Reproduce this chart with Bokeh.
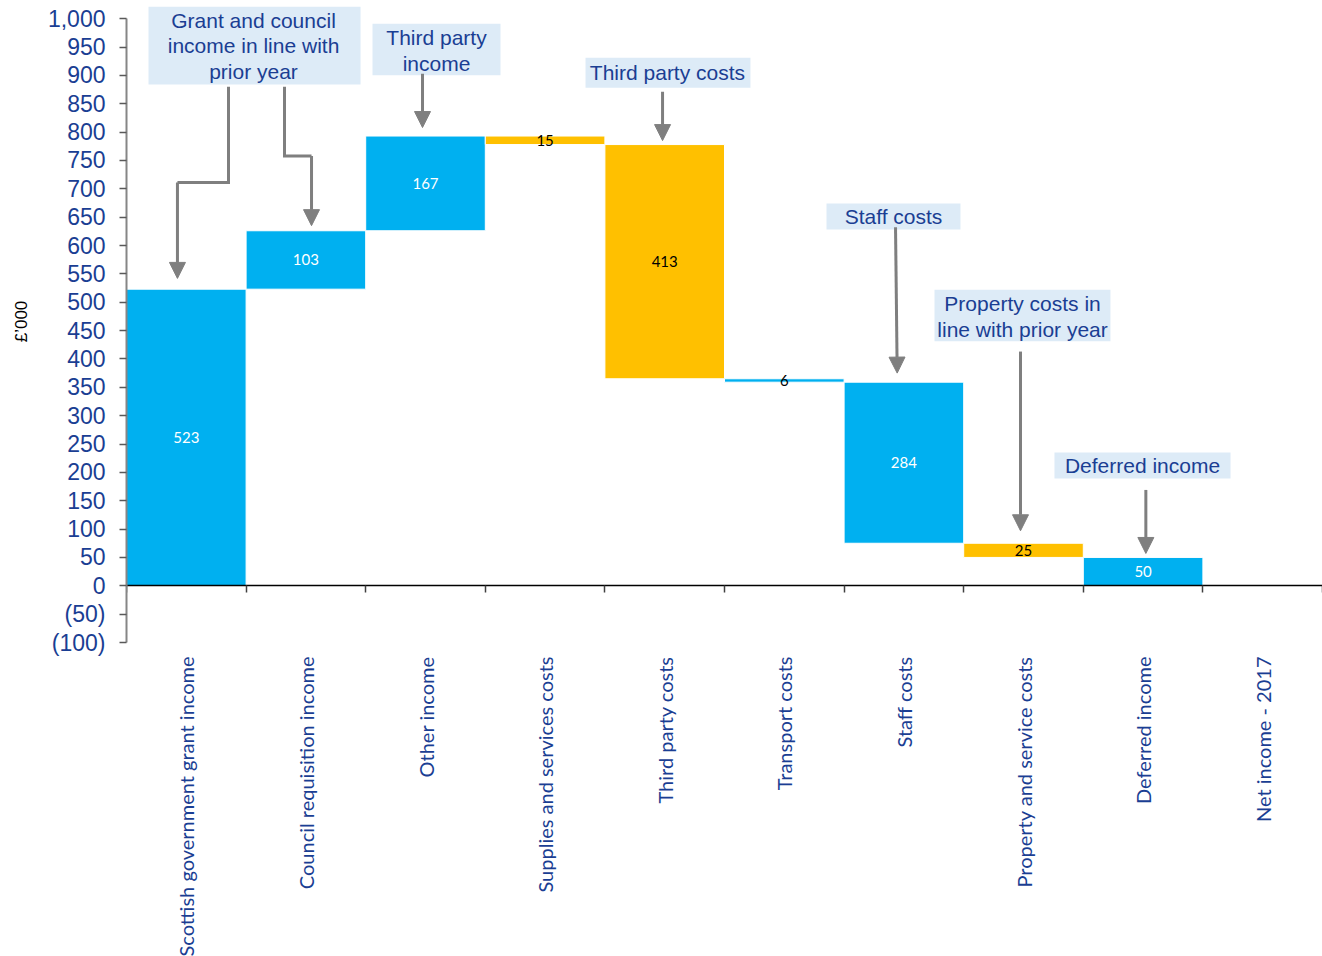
import math
from bokeh.plotting import figure
from bokeh.models import (ColumnDataSource, Range1d, LinearAxis, FixedTicker,
                          Arrow, NormalHead)
from bokeh.core.properties import value
from bokeh.embed import file_html
from bokeh.resources import INLINE

# ---------------- data ----------------
categories = [
    "Scottish government grant income",
    "Council requisition income",
    "Other income",
    "Supplies and services costs",
    "Third party costs",
    "Transport costs",
    "Staff costs",
    "Property and service costs",
    "Deferred income",
    "Net income - 2017",
]
changes = [523, 103, 167, -15, -413, -6, -284, -25, -50, 0]
bar_labels = ["523", "103", "167", "15", "413", "6", "284", "25", "50", "(0)"]
is_total = [False] * 9 + [True]

y_ticks = list(range(-100, 1001, 50))
y_tick_labels = [f"({abs(v):,})" if v < 0 else f"{v:,}" for v in y_ticks]

# styles (kept separate from data)
BLUE = "#00B0F0"
YELLOW = "#FFC000"
bar_colors = [BLUE, BLUE, BLUE, YELLOW, YELLOW, BLUE, BLUE, YELLOW, BLUE, BLUE]
label_colors = ["white", "white", "white", "black", "black", "black", "white", "black", "white", "white"]
TEXT_BLUE = "#1A3E93"
GREY = "#7F7F7F"
BOX = "#DDEBF7"

# ---------------- waterfall geometry from data ----------------
bottoms, tops = [], []
running = 0
for ch, tot in zip(changes, is_total):
    if tot:
        b, t = 0, running
    else:
        start = running
        running += ch
        b, t = min(start, running), max(start, running)
    bottoms.append(b)
    tops.append(t)

xs = list(range(len(categories)))
src = ColumnDataSource(dict(
    x=xs, bottom=bottoms, top=tops, color=bar_colors,
    mid=[(b + t) / 2 for b, t in zip(bottoms, tops)],
    label=bar_labels, label_color=label_colors,
))

p = figure(frame_width=1196, frame_height=642,
           x_range=Range1d(-0.5, 9.5), y_range=Range1d(-100, 1032),
           x_axis_type=None, y_axis_type=None,
           toolbar_location=None, output_backend="svg",
           min_border_left=126, min_border_right=0, min_border_top=0, min_border_bottom=0)
p.outline_line_color = None
p.grid.visible = False
p.background_fill_color = "white"
p.border_fill_color = "white"

p.vbar(x="x", width=1.0, bottom="bottom", top="top", source=src,
       fill_color="color", line_color="white", line_width=1)

p.text(x="x", y="mid", text="label", source=src, text_color="label_color",
       text_align="center", text_baseline="middle",
       text_font=value("Lato"), text_font_size="15px")

# ---------------- axes ----------------
yaxis = LinearAxis(ticker=FixedTicker(ticks=y_ticks),
                   major_label_overrides={v: s for v, s in zip(y_ticks, y_tick_labels)},
                   bounds=(-100, 1000),
                   axis_label="£’000", axis_label_text_font="Liberation Sans",
                   axis_label_text_font_size="17px", axis_label_text_font_style="normal",
                   axis_label_text_color="black", axis_label_standoff=14,
                   major_label_text_font="Liberation Sans", major_label_text_font_size="23px",
                   major_label_text_color=TEXT_BLUE, major_label_standoff=14,
                   axis_line_color="#868686", axis_line_width=2,
                   major_tick_line_color="#595959", major_tick_line_width=1.5,
                   major_tick_out=7, major_tick_in=0,
                   minor_tick_line_color=None)
p.add_layout(yaxis, "left")

xlab_axis = LinearAxis(ticker=FixedTicker(ticks=xs),
                       major_label_overrides={i: c for i, c in zip(xs, categories)},
                       major_label_orientation=math.pi / 2,
                       major_label_text_font="Lato", major_label_text_font_size="20px",
                       major_label_text_color=TEXT_BLUE, major_label_standoff=14,
                       axis_line_color=None, major_tick_line_color=None,
                       minor_tick_line_color=None, major_tick_out=0, major_tick_in=0)
p.add_layout(xlab_axis, "below")

zero_axis = LinearAxis(fixed_location=0,
                       ticker=FixedTicker(ticks=[i - 0.5 for i in range(len(categories) + 1)]),
                       major_label_text_font_size="0px", major_label_text_alpha=0,
                       axis_line_color="black", axis_line_width=1.5,
                       major_tick_line_color="#404040", major_tick_line_width=1.5,
                       major_tick_out=7, major_tick_in=0, minor_tick_line_color=None)
p.add_layout(zero_axis, "below")

# ---------------- callouts ----------------
callout_boxes = [  # left, right, top, bottom (data units)
    (-0.316, 1.457, 1021, 884),
    (1.557, 2.627, 991, 900),
    (3.338, 4.717, 931, 878),
    (5.353, 6.473, 674, 628),
    (6.256, 7.727, 522, 431),
    (7.259, 8.731, 235, 189),
]
callout_lines = [
    (0.562, [996, 952, 906], ["Grant and council", "income in line with", "prior year"]),
    (2.092, [966, 921], ["Third party", "income"]),
    (4.023, [905], ["Third party costs"]),
    (5.913, [651], ["Staff costs"]),
    (6.992, [498, 452], ["Property costs in", "line with prior year"]),
    (7.995, [212], ["Deferred income"]),
]
p.quad(left=[b[0] for b in callout_boxes], right=[b[1] for b in callout_boxes],
       top=[b[2] for b in callout_boxes], bottom=[b[3] for b in callout_boxes],
       fill_color=BOX, line_color=None)
tx, ty, tt = [], [], []
for cx, ys_, lines in callout_lines:
    for yy, ln in zip(ys_, lines):
        tx.append(cx); ty.append(yy); tt.append(ln)
p.text(x=tx, y=ty, text=tt, text_align="center", text_baseline="middle",
       text_font=value("Liberation Sans"), text_font_size="21px", text_color=TEXT_BLUE)

# elbow connector paths (all but last segment), then arrow segments
elbows = [
    ([0.353, 0.353, -0.074], [880, 711, 711]),
    ([0.821, 0.821, 1.047], [880, 758, 758]),
]
for ex, ey in elbows:
    p.line(ex, ey, line_color=GREY, line_width=3, line_join="miter")

arrows = [  # x_start, y_start, x_end, y_end
    (-0.074, 711, -0.074, 542),
    (1.047, 758, 1.047, 635),
    (1.975, 903, 1.975, 808),
    (3.982, 871, 3.982, 785),
    (5.930, 632, 5.944, 375),
    (6.975, 413, 6.975, 97),
    (8.023, 169, 8.023, 57),
]
for x0, y0, x1, y1 in arrows:
    p.add_layout(Arrow(end=NormalHead(size=16, fill_color=GREY, line_color=GREY),
                       x_start=x0, y_start=y0, x_end=x1, y_end=y1,
                       line_color=GREY, line_width=3))

open("out.html", "w").write(file_html(p, INLINE))
